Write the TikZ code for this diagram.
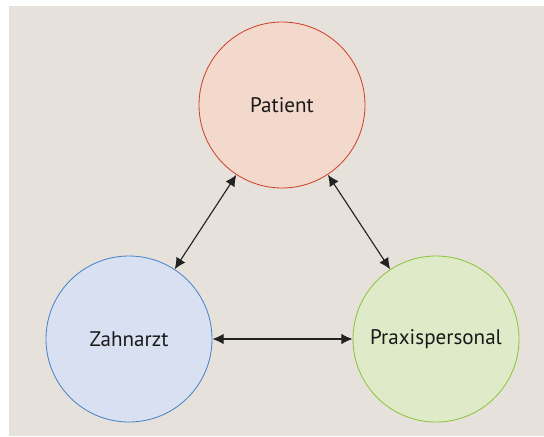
\documentclass[tikz,border=0pt]{standalone}
\usepackage{fontspec}
\setmainfont{PT Sans}
\usepackage{tikz}
\usetikzlibrary{positioning}
\usetikzlibrary{arrows.meta,shapes}
\usetikzlibrary{calc}
\definecolor{bgbeige}{HTML}{E6E1DB}
\definecolor{patfill}{HTML}{F3D8CC}
\definecolor{patdraw}{HTML}{D2432C}
\definecolor{zahnfill}{HTML}{D9E0F2}
\definecolor{zahndraw}{HTML}{4A86C8}
\definecolor{praxfill}{HTML}{DFEBC8}
\definecolor{praxdraw}{HTML}{8DC43F}
\definecolor{arrowgray}{HTML}{222222}
\tikzstyle{role}=[circle,draw,line width=0.6pt,minimum size=4.15cm,inner sep=0pt,font=\fontsize{15}{18}\selectfont,text=black!90]
\tikzstyle{relation} = [draw,line width=0.8pt,arrowgray,{Latex[length=8pt,width=7.5pt]}-{Latex[length=8pt,width=7.5pt]}]

\begin{document}
\begin{tikzpicture}

% background panel
    \useasboundingbox (0,0) rectangle (13.6,10.9);
    \fill[bgbeige] (0.225,0) rectangle (13.6,10.75);

% the three roles
  \foreach \pos/\name/\label/\fc/\dc in {{(7.05,8.275)/pat/Patient/patfill/patdraw}, {(3.225,2.425)/zahn/Zahnarzt/zahnfill/zahndraw}, {(10.9,2.425)/prax/Praxispersonal/praxfill/praxdraw}}
        \node[role,draw=\dc,fill=\fc] (\name) at \pos {\label};

    % Connect roles with double arrows
   \foreach \source/ \dest in {pat/zahn, pat/prax, zahn/prax}
          \path[relation] (\source) -- (\dest);

\end{tikzpicture}
\end{document}
